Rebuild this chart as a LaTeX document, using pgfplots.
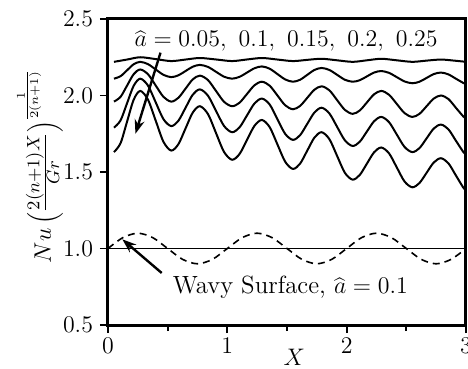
\documentclass[border=0pt]{standalone}
\usepackage{pgfplots}
\pgfplotsset{compat=1.18}
\usetikzlibrary{arrows.meta}
\begin{document}
\begin{tikzpicture}
\begin{axis}[
  name=ax,
  scale only axis,
  width=179bp, height=153bp,
  xmin=0, xmax=3, ymin=0.5, ymax=2.5,
  xtick={0,1,2,3}, minor xtick={0.5,1.5,2.5},
  ytick={0.5,1.0,1.5,2.0,2.5},
  tick pos=left,
  tick align=outside,
  minor tick length=3bp, major tick length=4bp,
  axis line style={line width=1.5bp},
  every tick/.style={line width=0.9bp, black},
  tick label style={font=\fontsize{13}{15}\selectfont},
  yticklabel style={/pgf/number format/.cd, fixed, fixed zerofill, precision=1},
  xticklabel style={yshift=1bp},
  every axis y label/.style={at={(axis description cs:-0.19,0.52)}, rotate=90, anchor=center},
  every axis x label/.style={at={(axis description cs:0.52,-0.105)}, anchor=center},
  ylabel={\fontsize{13}{15}\selectfont $Nu\left(\frac{2(n+1)X}{Gr}\right)^{\frac{1}{2(n+1)}}$},
  xlabel={\fontsize{13}{15}\selectfont $X$},
  clip=true,
]
% a = 0.05
\addplot[black, line width=1bp, smooth] coordinates {
(0.05,2.220)(0.16,2.235)(0.27,2.250)(0.40,2.238)(0.53,2.225)(0.65,2.235)(0.77,2.245)(0.91,2.235)
(1.04,2.225)(1.16,2.235)(1.29,2.245)(1.42,2.235)(1.55,2.225)(1.67,2.233)(1.79,2.240)(1.92,2.230)
(2.05,2.220)(2.17,2.230)(2.29,2.240)(2.42,2.230)(2.55,2.220)(2.67,2.228)(2.79,2.235)(2.90,2.228)(3.00,2.220)};
% a = 0.1
\addplot[black, line width=1bp, smooth] coordinates {
(0.05,2.110)(0.105,2.126)(0.16,2.165)(0.215,2.204)(0.27,2.220)
(0.335,2.205)(0.40,2.170)(0.465,2.135)(0.53,2.120)
(0.59,2.132)(0.65,2.160)(0.71,2.188)(0.77,2.200)
(0.8375,2.187)(0.905,2.155)(0.9725,2.123)(1.04,2.110)
(1.1025,2.122)(1.165,2.150)(1.2275,2.178)(1.29,2.190)
(1.355,2.175)(1.42,2.140)(1.485,2.105)(1.55,2.090)
(1.61,2.103)(1.67,2.135)(1.73,2.167)(1.79,2.180)
(1.855,2.167)(1.92,2.135)(1.985,2.103)(2.05,2.090)
(2.11,2.100)(2.17,2.125)(2.23,2.150)(2.29,2.160)
(2.355,2.148)(2.42,2.120)(2.485,2.092)(2.55,2.080)
(2.61,2.090)(2.67,2.115)(2.73,2.140)(2.79,2.150)
(2.8525,2.138)(2.915,2.110)(2.9775,2.082)(3.00,2.075)};
% a = 0.15
\addplot[black, line width=1bp, smooth] coordinates {
(0.05,1.960)(0.105,1.991)(0.16,2.065)(0.215,2.139)(0.27,2.170)
(0.335,2.139)(0.40,2.065)(0.465,1.991)(0.53,1.960)
(0.59,1.985)(0.65,2.045)(0.71,2.105)(0.77,2.130)
(0.8375,2.101)(0.905,2.030)(0.9725,1.959)(1.04,1.930)
(1.1025,1.953)(1.165,2.010)(1.2275,2.067)(1.29,2.090)
(1.355,2.064)(1.42,2.000)(1.485,1.936)(1.55,1.910)
(1.61,1.932)(1.67,1.985)(1.73,2.038)(1.79,2.060)
(1.855,2.034)(1.92,1.970)(1.985,1.906)(2.05,1.880)
(2.11,1.902)(2.17,1.955)(2.23,2.008)(2.29,2.030)
(2.355,2.005)(2.42,1.945)(2.485,1.885)(2.55,1.860)
(2.61,1.880)(2.67,1.930)(2.73,1.980)(2.79,2.000)
(2.8525,1.977)(2.915,1.920)(2.9775,1.863)(3.00,1.850)};
% a = 0.2
\addplot[black, line width=1bp, smooth] coordinates {
(0.05,1.790)(0.105,1.837)(0.16,1.950)(0.215,2.063)(0.27,2.110)
(0.335,2.065)(0.40,1.955)(0.465,1.845)(0.53,1.800)
(0.59,1.835)(0.65,1.920)(0.71,2.005)(0.77,2.040)
(0.8375,1.999)(0.905,1.900)(0.9725,1.801)(1.04,1.760)
(1.1025,1.792)(1.165,1.870)(1.2275,1.948)(1.29,1.980)
(1.355,1.941)(1.42,1.845)(1.485,1.749)(1.55,1.710)
(1.61,1.741)(1.67,1.815)(1.73,1.889)(1.79,1.920)
(1.855,1.883)(1.92,1.795)(1.985,1.707)(2.05,1.670)
(2.11,1.698)(2.17,1.765)(2.23,1.832)(2.29,1.860)
(2.355,1.826)(2.42,1.745)(2.485,1.664)(2.55,1.630)
(2.61,1.656)(2.67,1.720)(2.73,1.784)(2.79,1.810)
(2.8525,1.779)(2.915,1.705)(2.9775,1.631)(3.00,1.613)};
% a = 0.25
\addplot[black, line width=1bp, smooth] coordinates {
(0.05,1.630)(0.105,1.688)(0.16,1.830)(0.215,1.972)(0.27,2.030)
(0.335,1.973)(0.40,1.835)(0.465,1.697)(0.53,1.640)
(0.59,1.682)(0.65,1.785)(0.71,1.888)(0.77,1.930)
(0.8375,1.879)(0.905,1.755)(0.9725,1.631)(1.04,1.580)
(1.1025,1.618)(1.165,1.710)(1.2275,1.802)(1.29,1.840)
(1.355,1.793)(1.42,1.680)(1.485,1.567)(1.55,1.520)
(1.61,1.555)(1.67,1.640)(1.73,1.725)(1.79,1.760)
(1.855,1.715)(1.92,1.605)(1.985,1.495)(2.05,1.450)
(2.11,1.481)(2.17,1.555)(2.23,1.629)(2.29,1.660)
(2.355,1.622)(2.42,1.530)(2.485,1.438)(2.55,1.400)
(2.61,1.428)(2.67,1.495)(2.73,1.562)(2.79,1.590)
(2.8525,1.557)(2.915,1.478)(2.9775,1.398)(3.00,1.379)};
% flat surface
\addplot[black, line width=0.8bp] coordinates {(0,1.0)(3,1.0)};
% wavy surface
\addplot[black, line width=0.8bp, dash pattern=on 3.5bp off 2.5bp, smooth] coordinates {
(0.000,1.000)(0.125,1.071)(0.250,1.100)(0.375,1.071)(0.500,1.000)(0.625,0.929)(0.750,0.900)(0.875,0.929)
(1.000,1.000)(1.125,1.071)(1.250,1.100)(1.375,1.071)(1.500,1.000)(1.625,0.929)(1.750,0.900)(1.875,0.929)
(2.000,1.000)(2.125,1.071)(2.250,1.100)(2.375,1.071)(2.500,1.000)(2.625,0.929)(2.750,0.900)(2.875,0.929)(3.000,1.000)};
\node[anchor=west, font=\fontsize{12.5}{14}\selectfont, inner sep=0pt] at (axis cs:0.22,2.355)
  {$\widehat{a}=0.05,\ 0.1,\ 0.15,\ 0.2,\ 0.25$};
\node[anchor=west, font=\fontsize{12.5}{14}\selectfont, inner sep=0pt] at (axis cs:0.54,0.745)
  {Wavy Surface, $\widehat{a}=0.1$};
\draw[line width=1.2bp, -{Stealth[length=7bp,width=5bp]}] (axis cs:0.44,2.28) -- (axis cs:0.23,1.75);
\draw[line width=1.2bp, -{Stealth[length=7bp,width=5bp]}] (axis cs:0.45,0.84) -- (axis cs:0.12,1.06);
\end{axis}
\pgfresetboundingbox
\path ([shift={(-54bp,-22bp)}]ax.south west) rectangle ([shift={(1bp,9.5bp)}]ax.north east);
\end{tikzpicture}
\end{document}
